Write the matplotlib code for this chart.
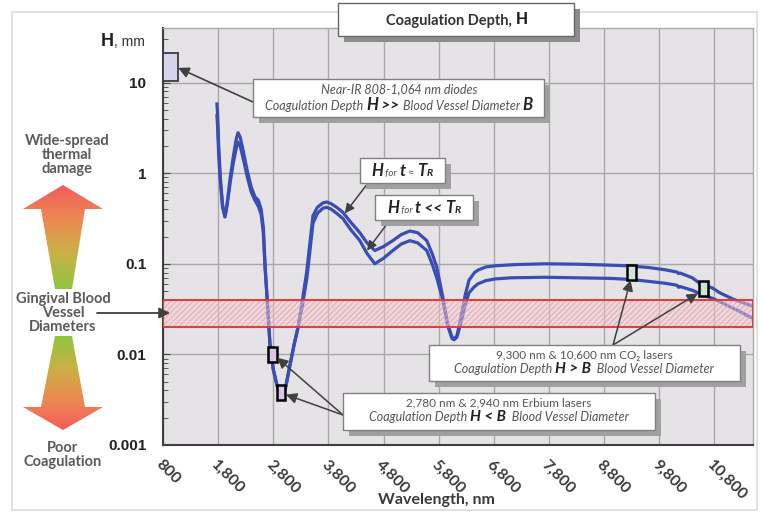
import numpy as np
import matplotlib
matplotlib.use('Agg')
import matplotlib.pyplot as plt
from matplotlib.patches import Rectangle, Polygon
from matplotlib.colors import LinearSegmentedColormap
from matplotlib.offsetbox import TextArea, HPacker, VPacker, AnnotationBbox

# ---- data ----
# H for t ~ T_R (upper curve)
wl_tr = [1778, 1790, 1810, 1840, 1880, 1923, 1960, 2020, 2080, 2130, 2160, 2200, 2260, 2330,
         2400, 2467, 2530, 2580, 2620, 2650, 2690, 2740, 2800, 2870, 2950, 3020, 3100, 3180,
         3250, 3330, 3410, 3520, 3600, 3700, 3772, 3850, 3950, 4062, 4200, 4370, 4500, 4641,
         4800, 4968, 5120, 5276, 5420, 5584, 5680, 5765, 5874, 5960, 6040, 6080, 6130, 6200,
         6280, 6350, 6450, 6510, 6650, 6820, 7200, 7720, 8300, 8800, 9220, 9600, 9900, 10120,
         10150, 10180, 10400, 10530, 10766, 10893, 11128, 11436, 11500]
h_tr = [5.8, 4.5, 2.0, 0.9, 0.45, 0.33, 0.45, 0.9, 1.6, 2.4, 2.8, 2.5, 1.7, 1.05,
        0.7, 0.55, 0.5, 0.4, 0.25, 0.1, 0.04, 0.013, 0.0068, 0.0045, 0.0034, 0.0042, 0.0075, 0.013,
        0.02, 0.04, 0.085, 0.34, 0.42, 0.47, 0.48, 0.46, 0.42, 0.37, 0.29, 0.22, 0.17, 0.14,
        0.155, 0.18, 0.21, 0.23, 0.22, 0.18, 0.13, 0.092, 0.043, 0.022, 0.0155, 0.0148, 0.016, 0.025,
        0.045, 0.066, 0.08, 0.085, 0.092, 0.095, 0.098, 0.1, 0.099, 0.097, 0.095, 0.091, 0.086, 0.081,
        0.078, 0.079, 0.07, 0.061, 0.054, 0.048, 0.041, 0.035, 0.034]

# H for t << T_R (lower curve)
wl_short = [1778, 1790, 1810, 1840, 1880, 1923, 1960, 2020, 2080, 2130, 2160, 2200, 2260, 2330,
            2400, 2467, 2530, 2580, 2620, 2650, 2690, 2740, 2800, 2870, 2950, 3020, 3100, 3180,
            3250, 3330, 3410, 3520, 3600, 3700, 3772, 3850, 3950, 4062, 4200, 4370, 4500, 4641,
            4800, 4968, 5120, 5276, 5420, 5584, 5680, 5765, 5874, 5960, 6040, 6080, 6130, 6200,
            6280, 6350, 6450, 6510, 6650, 6820, 7110, 7720, 8300, 8910, 9300, 9600, 9900, 10120,
            10150, 10180, 10400, 10530, 10700, 10830, 11020, 11250, 11436, 11500]
h_short = [4.3, 3.3, 1.6, 0.8, 0.42, 0.33, 0.43, 0.8, 1.35, 1.9, 2.2, 2.0, 1.4, 0.9,
           0.62, 0.5, 0.43, 0.35, 0.22, 0.09, 0.04, 0.013, 0.0068, 0.0045, 0.0034, 0.0042, 0.0075, 0.013,
           0.02, 0.035, 0.07, 0.28, 0.36, 0.41, 0.42, 0.40, 0.36, 0.316, 0.24, 0.18, 0.13, 0.1,
           0.115, 0.14, 0.165, 0.18, 0.17, 0.14, 0.1, 0.07, 0.04, 0.021, 0.015, 0.0145, 0.0155, 0.022,
           0.035, 0.048, 0.056, 0.06, 0.065, 0.068, 0.07, 0.071, 0.07, 0.069, 0.067, 0.064, 0.061, 0.058,
           0.055, 0.056, 0.051, 0.047, 0.043, 0.04, 0.035, 0.03, 0.026, 0.025]

x_ticks = [800, 1800, 2800, 3800, 4800, 5800, 6800, 7800, 8800, 9800, 10800]
x_labels = ['800', '1,800', '2,800', '3,800', '4,800', '5,800', '6,800', '7,800', '8,800',
            '9,800', '10,800']
y_ticks = [0.001, 0.01, 0.1, 1, 10]
y_labels = ['0.001', '0.01', '0.1', '1', '10']

vessel_band = [0.02, 0.04]          # gingival blood vessel diameters, mm
diode_wl = [808, 1064]
diode_h = [10.5, 21]
erbium_wl = [2780, 2940]
erbium_h = [0.0099, 0.0038]
co2_wl = [9300, 10600]
co2_h = [0.081, 0.053]

LATO = ['Lato', 'DejaVu Sans']
ARIAL = ['Liberation Sans', 'DejaVu Sans']
BLUE = '#3a4db4'
GREY_TXT = '#555555'
ARROW = '#404040'

fig = plt.figure(figsize=(7.6, 5.13), dpi=100)
W, H = 760, 513
ax = fig.add_axes([163 / W, (H - 445) / H, 590 / W, 417 / H])
# overlay in pixel coordinates for the boxes and side labels
ov = fig.add_axes([0, 0, 1, 1], zorder=5)
ov.set_xlim(0, W)
ov.set_ylim(H, 0)
ov.axis('off')
ov.patch.set_visible(False)
px = ov.transData

# ---- main plot ----
ax.set_facecolor('#e6e3e6')
ax.set_yscale('log')
ax.set_xlim(800, 11500)
ax.set_ylim(0.001, 40)
ax.plot(wl_tr, h_tr, color=BLUE, lw=2.3, solid_joinstyle='round', zorder=3)
ax.plot(wl_short, h_short, color=BLUE, lw=2.3, solid_joinstyle='round', zorder=3)

plt.rcParams['hatch.linewidth'] = 0.6
ax.axhspan(vessel_band[0], vessel_band[1], facecolor=(0.96, 0.8, 0.82, 0.45),
           edgecolor='#e8a0a8', hatch='//////', lw=0, zorder=4)
ax.axhspan(vessel_band[0], vessel_band[1], facecolor='none', edgecolor='#e23a3a', lw=1.4, zorder=4)

ax.set_xticks(x_ticks)
ax.set_xticklabels(x_labels, rotation=-45, ha='left', va='top', rotation_mode='anchor',
                   fontsize=11.5, fontweight='bold', color='#3a3a3a', family=LATO)
ax.set_yticks(y_ticks)
ax.set_yticklabels(y_labels, fontsize=11, fontweight='bold', color='#222222', family=ARIAL)
ax.yaxis.set_minor_locator(matplotlib.ticker.LogLocator(base=10, subs=np.arange(2, 10)))
ax.yaxis.set_minor_formatter(matplotlib.ticker.NullFormatter())
ax.tick_params(axis='x', length=0, pad=9)
ax.tick_params(axis='y', which='major', direction='in', length=5, pad=12, color='#444444')
ax.tick_params(axis='y', which='minor', direction='in', length=3.5, color='#444444')
ax.grid(True, which='major', color='#a8a8a8', lw=1)
ax.set_axisbelow(True)
for s in ['left', 'bottom']:
    ax.spines[s].set_color('#404040')
    ax.spines[s].set_linewidth(1.5)
for s in ['top', 'right']:
    ax.spines[s].set_color('#a8a8a8')
    ax.spines[s].set_linewidth(1)

ax.set_xlabel('Wavelength, nm', fontsize=11.5, fontweight='bold', color='#3a3a3a', family=LATO)
ax.xaxis.set_label_coords((436 - 163) / 590, (445 - 493) / 417)

# marker rectangles on the curves
ax.add_patch(Rectangle((diode_wl[0], diode_h[0]), diode_wl[1] - diode_wl[0], diode_h[1] - diode_h[0],
                       facecolor='#d6d4ea', edgecolor='#3c3c3c', lw=1.3, zorder=6))
for wl, h in zip(erbium_wl, erbium_h):
    ax.add_patch(Rectangle((wl - 80, h / 1.21), 160, h * 1.21 - h / 1.21,
                           facecolor='#d8c8e6', edgecolor='black', lw=1.8, zorder=6))
for wl, h in zip(co2_wl, co2_h):
    ax.add_patch(Rectangle((wl - 80, h / 1.21), 160, h * 1.21 - h / 1.21,
                           facecolor='#cfe3d6', edgecolor='black', lw=1.8, zorder=6))

# outer frame
ov.add_patch(Rectangle((12, 12), 745, 498, facecolor='none', edgecolor='#dcdcdc', lw=1.2))


def shadow_box(x0, y0, x1, y1, shadow='#a0a0a0', edge='#808080', off=6):
    ov.add_patch(Rectangle((x0 + off, y0 + off), x1 - x0, y1 - y0, facecolor=shadow, lw=0))
    ov.add_patch(Rectangle((x0, y0), x1 - x0, y1 - y0, facecolor='white', edgecolor=edge, lw=1))


def rich_line(pieces):
    kids = [TextArea(s, textprops=p) for s, p in pieces]
    return HPacker(children=kids, align='baseline', pad=0, sep=0)


def place(lines, cx, cy, sep=2):
    box = VPacker(children=lines, align='center', pad=0, sep=sep)
    ab = AnnotationBbox(box, (cx, cy), xycoords=px, frameon=False, box_alignment=(0.5, 0.5))
    ov.add_artist(ab)


it_grey = dict(family=LATO, style='italic', color=GREY_TXT, fontsize=9)
rg_grey = dict(family=LATO, color=GREY_TXT, fontsize=8.5)
bi_blk = dict(family=LATO, style='italic', weight='bold', color='#222222', fontsize=11)
bi_big = dict(family=LATO, style='italic', weight='bold', color='#222222', fontsize=12)
bi_sub = dict(family=LATO, style='italic', weight='bold', color='#222222', fontsize=7.5)
it_small = dict(family=LATO, style='italic', color=GREY_TXT, fontsize=7)

# title box
shadow_box(338, 3, 574, 36, shadow='#8c8c8c', edge='#666666', off=6)
place([rich_line([('Coagulation Depth, ', dict(family=LATO, weight='bold', color='#333333', fontsize=10.5)),
                  ('H', dict(family=ARIAL, weight='bold', color='#222222', fontsize=12))])], 457, 20)

# H, mm
place([rich_line([('H', dict(family=ARIAL, weight='bold', color='#222222', fontsize=13)),
                  (', mm', dict(family=ARIAL, color='#333333', fontsize=10))])], 123, 42)

# diodes box
shadow_box(253, 79, 544, 117)
place([rich_line([('Near-IR 808-1,064 nm diodes', it_grey)]),
       rich_line([('Coagulation Depth ', it_grey), ('H', bi_big), (' >> ', bi_blk),
                  ('Blood Vessel Diameter ', it_grey), ('B', bi_big)])], 399, 98, sep=1)
ax.annotate('', xy=(1075, 14.5), xycoords='data', xytext=(253, 102), textcoords=px,
            arrowprops=dict(arrowstyle='-|>', color=ARROW, lw=1.2, mutation_scale=16,
                            shrinkA=0, shrinkB=0), zorder=7)

# H for t ~ T_R
shadow_box(360, 158, 445, 183)
place([rich_line([('H', bi_big), (' for ', it_small), ('t', bi_big), (' \u2248 ', dict(rg_grey, fontsize=8)),
                  ('T', bi_big), ('R', bi_sub)])], 402, 171)
ax.annotate('', xy=(4097, 0.36), xycoords='data', xytext=(368, 183), textcoords=px,
            arrowprops=dict(arrowstyle='-|>', color=ARROW, lw=1.1, mutation_scale=14,
                            shrinkA=0, shrinkB=0), zorder=7)

# H for t << T_R
shadow_box(375, 195, 473, 220)
place([rich_line([('H', bi_big), (' for ', it_small), ('t', bi_big), (' << ', bi_blk),
                  ('T', bi_big), ('R', bi_sub)])], 424, 208)
ax.annotate('', xy=(4500, 0.14), xycoords='data', xytext=(390, 220), textcoords=px,
            arrowprops=dict(arrowstyle='-|>', color=ARROW, lw=1.1, mutation_scale=14,
                            shrinkA=0, shrinkB=0), zorder=7)

# CO2 box
shadow_box(429, 345, 740, 381)
place([rich_line([('9,300 nm & 10,600 nm CO\u2082 lasers', rg_grey)]),
       rich_line([('Coagulation Depth ', it_grey), ('H > B', bi_blk),
                  ('  Blood Vessel Diameter', it_grey)])], 584, 363, sep=1)
for xy in [(9280, 0.066), (10500, 0.047)]:
    ax.annotate('', xy=xy, xycoords='data', xytext=(613, 345), textcoords=px,
                arrowprops=dict(arrowstyle='-|>', color=ARROW, lw=1.1, mutation_scale=16,
                                shrinkA=0, shrinkB=0), zorder=7)

# Erbium box
shadow_box(343, 393, 655, 430)
place([rich_line([('2,780 nm & 2,940 nm Erbium lasers', rg_grey)]),
       rich_line([('Coagulation Depth ', it_grey), ('H < B', bi_blk),
                  ('  Blood Vessel Diameter', it_grey)])], 499, 411, sep=1)
for xy in [(2870, 0.0092), (3030, 0.0036)]:
    ax.annotate('', xy=xy, xycoords='data', xytext=(343, 415), textcoords=px,
                arrowprops=dict(arrowstyle='-|>', color=ARROW, lw=1.1, mutation_scale=16,
                                shrinkA=0, shrinkB=0), zorder=7)

# ---- left side: gradient arrows and labels ----
cmap = LinearSegmentedColormap.from_list('heat', ['#8cc63f', '#c9b245', '#ec8a50', '#f25c5c'])
grad = np.linspace(0, 1, 256).reshape(-1, 1)

up = Polygon([(63, 185), (103, 209), (85, 209), (72, 289), (55, 289), (41, 209), (23, 209)],
             closed=True, facecolor='none', edgecolor='none')
ov.add_patch(up)
im = ov.imshow(grad, cmap=cmap, extent=[23, 103, 289, 185], origin='lower', aspect='auto')
im.set_clip_path(up)

down = Polygon([(55, 336), (72, 336), (85, 407), (103, 407), (63, 430), (23, 407), (41, 407)],
               closed=True, facecolor='none', edgecolor='none')
ov.add_patch(down)
im2 = ov.imshow(grad[::-1], cmap=cmap, extent=[23, 103, 430, 336], origin='lower', aspect='auto')
im2.set_clip_path(down)
ov.set_xlim(0, W)
ov.set_ylim(H, 0)

side = dict(family=LATO, weight='bold', color='#5a5a5a', fontsize=10.5, ha='center', va='center',
            linespacing=1.0)
ov.text(67, 155, 'Wide-spread\nthermal\ndamage', **side)
ov.text(63, 313, 'Gingival Blood\nVessel\nDiameters', **side)
ov.text(63, 455, 'Poor\nCoagulation', **side)
ov.annotate('', xy=(170, 313), xytext=(97, 313),
            arrowprops=dict(arrowstyle='-|>', color=ARROW, lw=1.3, mutation_scale=16,
                            shrinkA=0, shrinkB=0))

fig.savefig('out.png', dpi=100, facecolor='white')
